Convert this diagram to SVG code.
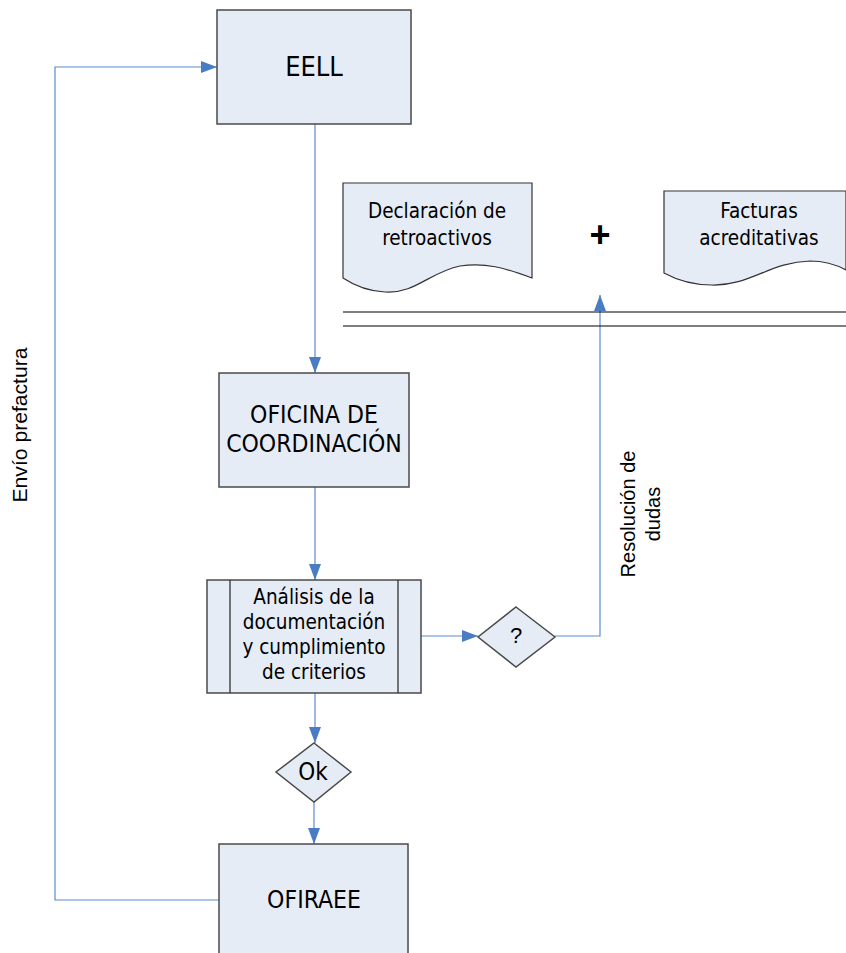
<svg xmlns="http://www.w3.org/2000/svg" width="846" height="953" viewBox="0 0 846 953">
<style>
.box{fill:#e6ecf6;stroke:#4a4a4a;stroke-width:1.5}
.doc{fill:#e6ecf6;stroke:#333;stroke-width:1.2}
.t{font-family:"DejaVu Sans Condensed","DejaVu Sans",sans-serif;font-stretch:condensed;fill:#000;text-anchor:middle;dominant-baseline:central}
.a{font-family:"Liberation Sans",Arial,sans-serif;fill:#000;text-anchor:middle;dominant-baseline:central}
.c{fill:none;stroke:#5b8bd0;stroke-width:1.2}
.hl{stroke:#000;stroke-width:1.2}
</style>
<defs>
<marker id="ah" viewBox="0 0 16 12" refX="16" refY="6" markerWidth="16" markerHeight="12" markerUnits="userSpaceOnUse" orient="auto">
<path d="M0,0 L16,6 L0,12 z" fill="#4a7cc4"/>
</marker>
</defs>
<rect width="846" height="953" fill="#fff"/>

<g id="connectors">
<path class="c" d="M315,124 V373" marker-end="url(#ah)"/>
<path class="c" d="M315,487 V580" marker-end="url(#ah)"/>
<path class="c" d="M421,636 H478" marker-end="url(#ah)"/>
<path class="c" d="M555,636 H600 V295" marker-end="url(#ah)"/>
<path class="c" d="M315,693 V743" marker-end="url(#ah)"/>
<path class="c" d="M314,802 V844" marker-end="url(#ah)"/>
<path class="c" d="M219,900 H55 V67 H217" marker-end="url(#ah)"/>
<text class="a" font-size="20" textLength="155" lengthAdjust="spacingAndGlyphs" transform="translate(20,425) rotate(-90)">Envío prefactura</text>
<text class="a" font-size="20" transform="translate(640,514) rotate(-90)"><tspan x="0" dy="-12.5">Resolución de</tspan><tspan x="0" dy="25">dudas</tspan></text>
</g>

<g id="lines">
<line class="hl" x1="343" y1="312" x2="846" y2="312"/>
<line class="hl" x1="343" y1="326" x2="846" y2="326"/>
</g>

<g id="eell">
<rect class="box" x="217" y="10" width="194" height="114"/>
<text class="t" x="314" y="66" font-size="27">EELL</text>
</g>

<g id="doc-declaracion">
<path class="doc" d="M343,183 H532 V278 C505,268 485,262 460,266 C430,272 415,294 385,292 C365,291 352,284 343,278 Z"/>
<text class="t" x="437" y="211" font-size="20.5">Declaración de</text>
<text class="t" x="437" y="238" font-size="20.5">retroactivos</text>
</g>

<text class="a" x="600" y="234" font-size="36" font-weight="bold">+</text>

<g id="doc-facturas">
<path class="doc" d="M664,191 H846 V270 C835,264 825,261 810,261 C770,262 750,286 712,285 C690,285 675,279 664,273 Z"/>
<text class="t" x="759" y="211" font-size="20.5">Facturas</text>
<text class="t" x="759" y="238" font-size="20.5">acreditativas</text>
</g>

<g id="oficina">
<rect class="box" x="219" y="373" width="190" height="114"/>
<text class="t" x="314" y="414" font-size="24.5">OFICINA DE</text>
<text class="t" x="314" y="443" font-size="24.5">COORDINACIÓN</text>
</g>

<g id="analisis">
<rect class="box" x="207" y="580" width="214" height="113"/>
<line x1="230" y1="580" x2="230" y2="693" stroke="#222" stroke-width="1.2"/>
<line x1="398" y1="580" x2="398" y2="693" stroke="#222" stroke-width="1.2"/>
<text class="t" x="314" y="597" font-size="20.5">Análisis de la</text>
<text class="t" x="314" y="622" font-size="20.5">documentación</text>
<text class="t" x="314" y="647" font-size="20.5">y cumplimiento</text>
<text class="t" x="314" y="672" font-size="20.5">de criterios</text>
</g>

<g id="duda">
<polygon class="box" points="516,607 555,637 516,667 478,637" stroke-width="1.2"/>
<text class="a" x="516" y="635" font-size="22">?</text>
</g>

<g id="ok">
<polygon class="box" points="314,743 351,772 314,802 276,772" stroke-width="1.2"/>
<text class="t" x="313" y="772" font-size="24">Ok</text>
</g>

<g id="ofiraee">
<rect class="box" x="219" y="844" width="189" height="120"/>
<text class="t" x="314" y="899" font-size="24.5">OFIRAEE</text>
</g>
</svg>
